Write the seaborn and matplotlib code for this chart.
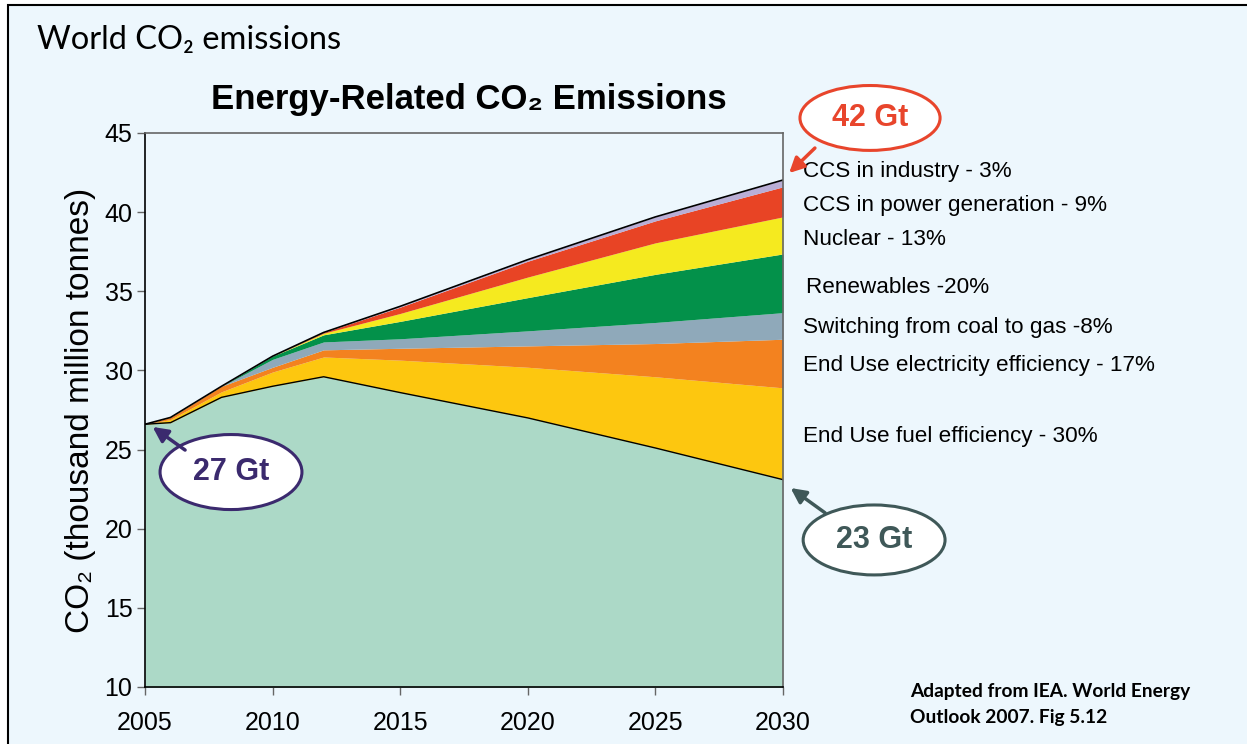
import matplotlib
matplotlib.use('Agg')
from matplotlib import pyplot as plt
from matplotlib.patches import Ellipse, Rectangle
import numpy as np
import seaborn as sns

# values (thousand million tonnes CO2)
years = [2005, 2006, 2008, 2010, 2012, 2015, 2020, 2025, 2030]
base = [26.6, 26.7, 28.3, 29.0, 29.6, 28.6, 27.0, 25.1, 23.1]
fuel_eff = [0.0, 0.2, 0.35, 0.9, 1.25, 2.05, 3.2, 4.5, 5.8]
elec_eff = [0.0, 0.13, 0.35, 0.3, 0.45, 0.75, 1.35, 2.1, 3.07]
coal_gas = [0.0, 0.0, 0.0, 0.5, 0.5, 0.6, 0.95, 1.33, 1.68]
renewables = [0.0, 0.0, 0.0, 0.2, 0.45, 1.1, 2.1, 3.04, 3.71]
nuclear = [0.0, 0.0, 0.0, 0.0, 0.1, 0.5, 1.3, 1.99, 2.34]
ccs_power = [0.0, 0.0, 0.0, 0.0, 0.05, 0.4, 1.0, 1.39, 1.9]
ccs_industry = [0.0, 0.0, 0.0, 0.0, 0.0, 0.05, 0.1, 0.25, 0.43]

labels = ["End Use fuel efficiency - 30%",
          "End Use electricity efficiency - 17%",
          "Switching from coal to gas -8%",
          "Renewables -20%",
          "Nuclear - 13%",
          "CCS in power generation - 9%",
          "CCS in industry - 3%"]
label_y = [25.8, 30.28, 32.74, 35.27, 38.3, 40.45, 42.54]

colors = ['#acd9c7', '#fdc70f', '#f3821f', '#8fa9ba', '#03914a',
          '#f5ea1f', '#e84425', '#b9aed6']
bg = '#edf7fd'

sns.set_style('white')
plt.rcParams['font.family'] = ['Liberation Sans', 'DejaVu Sans']
plt.rcParams['text.color'] = 'black'
plt.rcParams['xtick.color'] = 'black'
plt.rcParams['ytick.color'] = 'black'
plt.rcParams['axes.labelcolor'] = 'black'
narrow = ['Liberation Sans Narrow', 'Liberation Sans', 'DejaVu Sans']
gill = ['Lato', 'DejaVu Sans']

fig = plt.figure(figsize=(12.47, 7.44), dpi=100)
fig.patch.set_facecolor('white')
fig.patches.append(Rectangle((8 / 1247, -0.05), 1.1, 1 - 5 / 744 + 0.05,
                             transform=fig.transFigure, fc=bg, ec='black',
                             lw=1.5, zorder=-10))

ax = fig.add_axes([145 / 1247, 57 / 744, 638 / 1247, 554 / 744])
ax.set_facecolor(bg)

ax.stackplot(years, base, fuel_eff, elec_eff, coal_gas, renewables,
             nuclear, ccs_power, ccs_industry, colors=colors, lw=0)
total = np.sum([base, fuel_eff, elec_eff, coal_gas, renewables, nuclear,
                ccs_power, ccs_industry], axis=0)
sns.lineplot(x=years, y=base, color='black', lw=1, ax=ax)
sns.lineplot(x=years, y=total, color='black', lw=1.2, ax=ax)

ax.set_xlim(2005, 2030)
ax.set_ylim(10, 45)
ax.set_xticks(range(2005, 2031, 5))
ax.set_yticks(range(10, 46, 5))
ax.tick_params(axis='both', direction='out', length=6, width=1,
               color='#666666', labelsize=18, left=True, bottom=True)
ax.tick_params(axis='x', pad=11)
ax.tick_params(axis='y', pad=3)
for s in ax.spines.values():
    s.set_color('#666666')
    s.set_linewidth(1.2)
ax.spines['bottom'].set_color('black')
ax.spines['left'].set_color('black')

ax.set_ylabel('CO₂ (thousand million tonnes)', fontsize=24, labelpad=6)

# series labels at the right
for txt, yv in zip(labels, label_y):
    xoff = 2030.9 if txt.startswith('Renew') else 2030.8
    ax.text(xoff, yv, txt, fontsize=16.2, family=narrow, va='center',
            ha='left', clip_on=False)

# titles
fig.text(37 / 1247, 1 - 40 / 744, 'World CO₂ emissions', fontsize=23.5,
         family=gill, va='center', ha='left')
fig.text(469 / 1247, 1 - 100 / 744, 'Energy-Related CO₂ Emissions',
         fontsize=25, fontweight='bold', family=narrow, va='center',
         ha='center')
fig.text(910 / 1247, 1 - 692 / 744, 'Adapted from IEA. World Energy',
         fontsize=13.8, fontweight='bold', family=gill, va='center')
fig.text(910 / 1247, 1 - 717 / 744, 'Outlook 2007. Fig 5.12',
         fontsize=13.8, fontweight='bold', family=gill, va='center')

# callout ellipses with arrows
callouts = [
    ('42 Gt', '#e8452c', (2033.41, 45.95), (5.49, 4.1), (2031.25, 44.05), (2030.24, 42.47)),
    ('27 Gt', '#3b2a6e', (2008.37, 23.58), (5.56, 4.74), (2006.57, 24.97), (2005.3, 26.43)),
    ('23 Gt', '#3f5858', (2033.57, 19.29), (5.56, 4.42), (2031.65, 21.0), (2030.3, 22.57)),
]
for txt, col, c, wh, start, tip in callouts:
    e = Ellipse(c, wh[0], wh[1], fc='white', ec=col, lw=2.2, clip_on=False,
                zorder=5)
    ax.add_patch(e)
    ax.text(c[0], c[1], txt, color=col, fontsize=22, fontweight='bold',
            family=narrow, ha='center', va='center', zorder=6, clip_on=False)
    ax.annotate('', xy=tip, xytext=start, annotation_clip=False, zorder=6,
                arrowprops=dict(arrowstyle='-|>,head_length=0.9,head_width=0.45',
                                color=col, lw=2.5, shrinkA=0, shrinkB=0))

fig.savefig('out.png', dpi=100, facecolor=fig.get_facecolor())
